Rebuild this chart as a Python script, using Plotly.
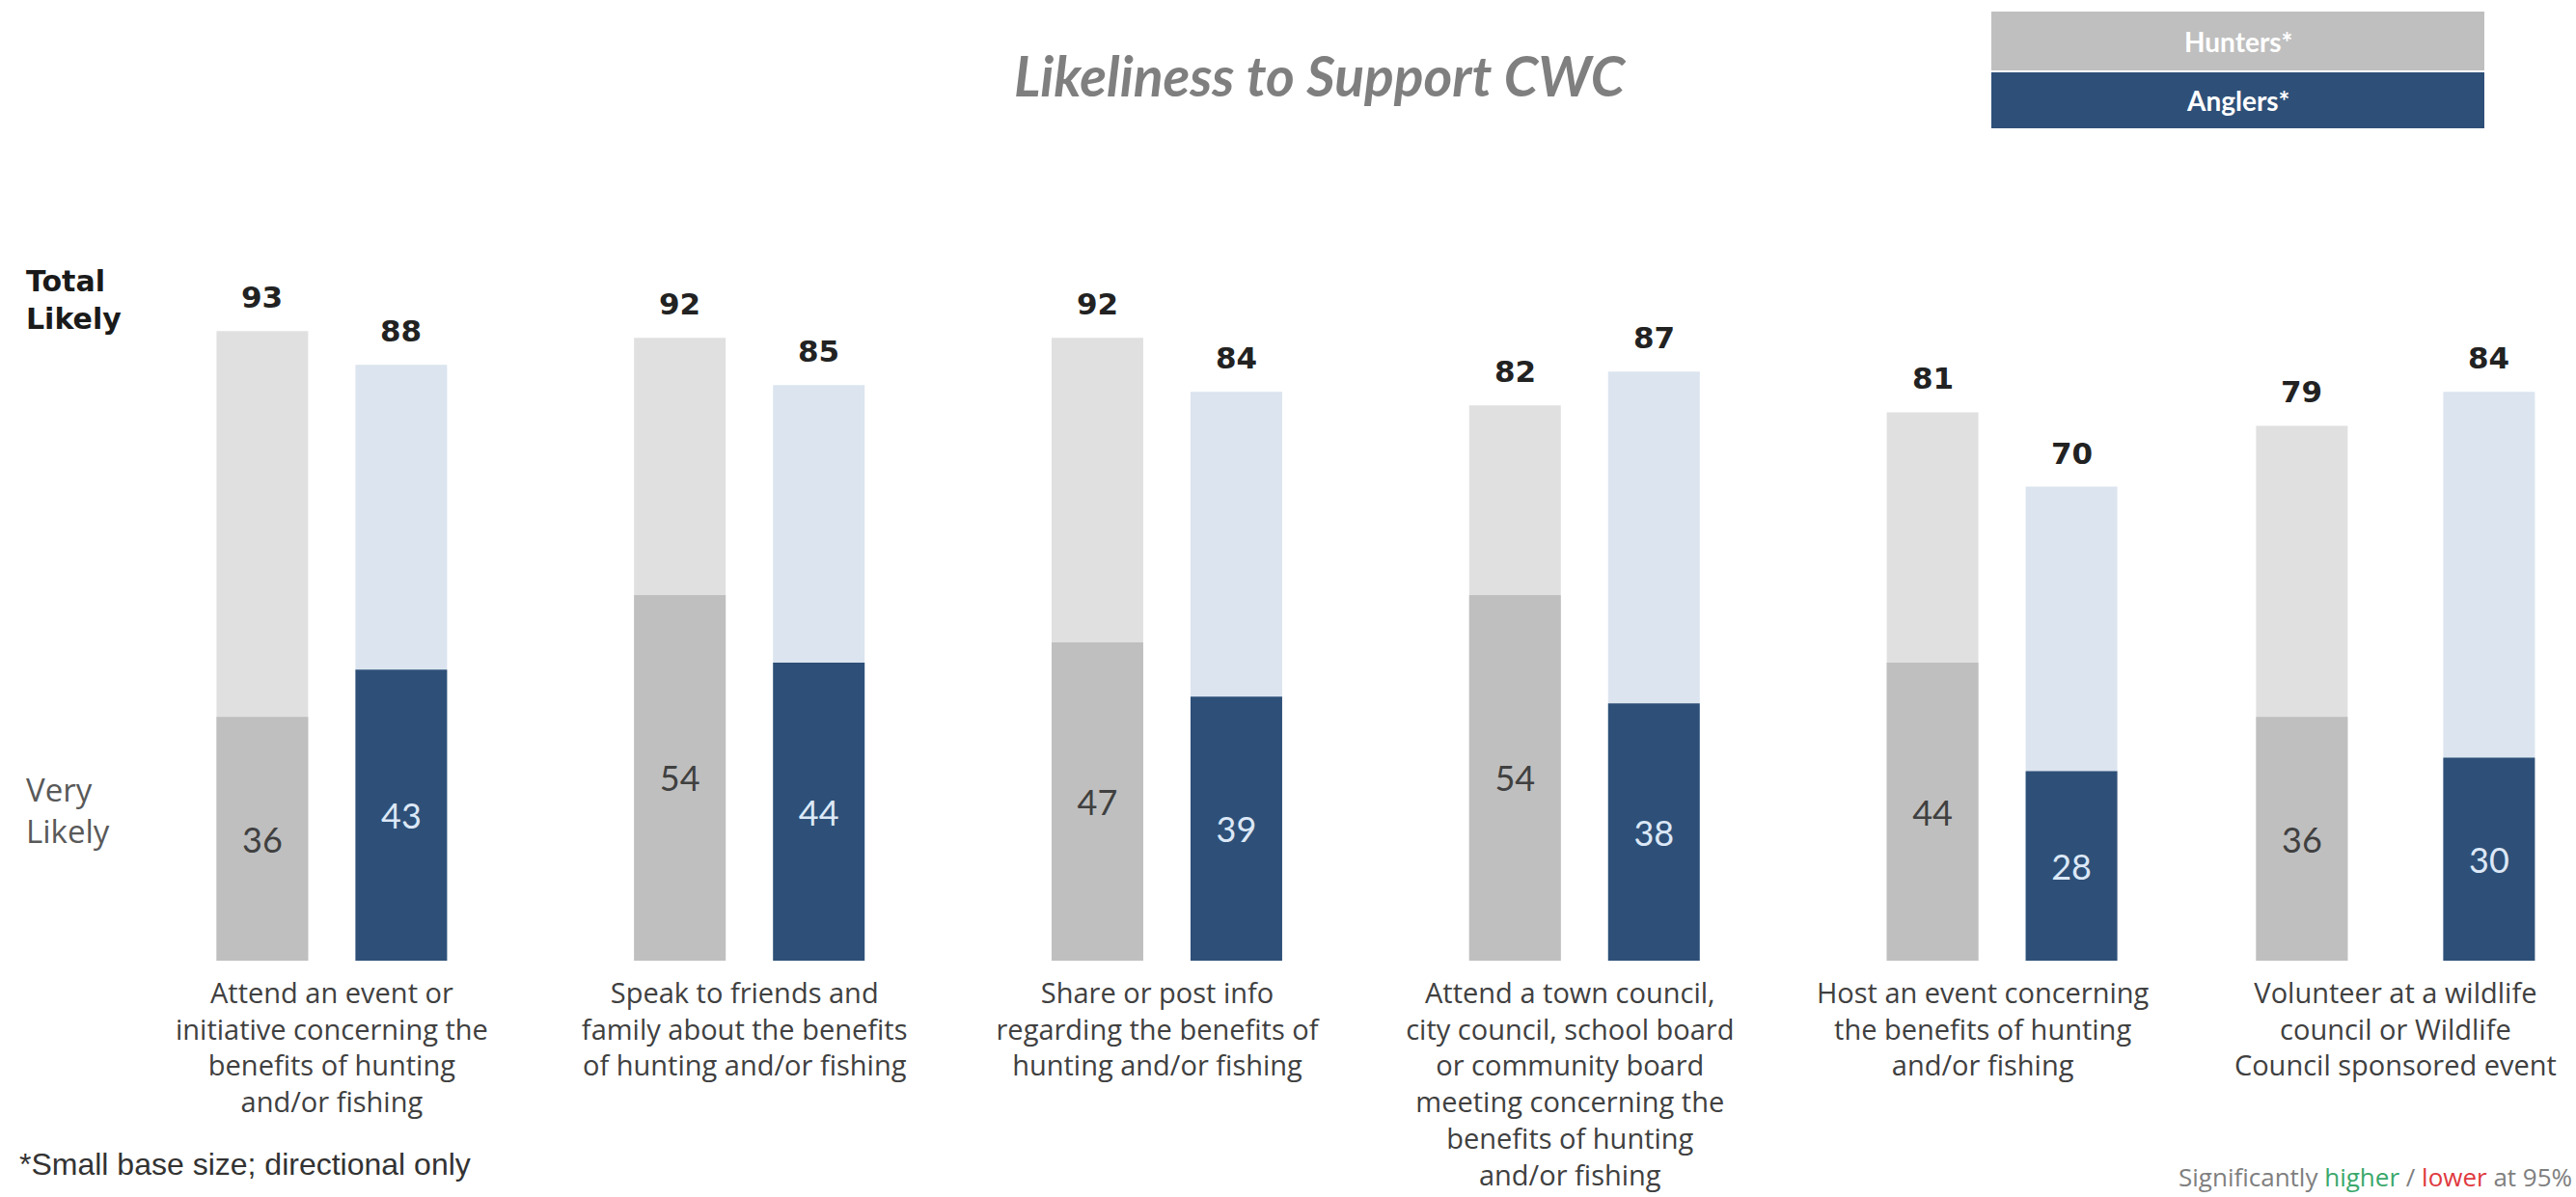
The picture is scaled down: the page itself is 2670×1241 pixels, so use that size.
import plotly.graph_objects as go

# ---------------- data ----------------
categories = [
    "Attend an event or<br>initiative concerning the<br>benefits of hunting<br>and/or fishing",
    "Speak to friends and<br>family about the benefits<br>of hunting and/or fishing",
    "Share or post info<br>regarding the benefits of<br>hunting and/or fishing",
    "Attend a town council,<br>city council, school board<br>or community board<br>meeting concerning the<br>benefits of hunting<br>and/or fishing",
    "Host an event concerning<br>the benefits of hunting<br>and/or fishing",
    "Volunteer at a wildlife<br>council or Wildlife<br>Council sponsored event",
]
hunters_total = [93, 92, 92, 82, 81, 79]
hunters_very = [36, 54, 47, 54, 44, 36]
anglers_total = [88, 85, 84, 87, 70, 84]
anglers_very = [43, 44, 39, 38, 28, 30]

# ---------------- layout constants (style) ----------------
W, H = 2670, 1241
ML, MR, MT, MB = 130, 3, 294, 245
PW = W - ML - MR
PH = H - MT - MB
U = 427.8                      # pixels per category step
X_MIN = -0.5
X_MAX = X_MIN + PW / U


def paper_x(px):
    return (px - ML) / PW


def paper_y(py):
    return (H - MB - py) / PH


BAR_W = 0.222
# per-group bar offsets (in category units) reproducing the slide's spacing
H_OFF = [-0.2793, -0.2677, -0.2560, -0.2443, -0.2326, -0.3378]
A_OFF = [0.0573, 0.0690, 0.0806, 0.0923, 0.1040, 0.1157]

C_H_TOT = "#e0e0e0"
C_H_VERY = "#bfbfbf"
C_A_TOT = "#dbe4ef"
C_A_VERY = "#2e5078"
FONT = "Lato"
LABEL_FONT = "Open Sans"
BOLD_FONT = "DejaVu Sans"

fig = go.Figure()

fig.add_trace(go.Bar(x=categories, y=hunters_total, offset=H_OFF, width=BAR_W,
                     marker=dict(color=C_H_TOT, line=dict(width=0)),
                     name="Hunters* total", hoverinfo="skip"))
fig.add_trace(go.Bar(x=categories, y=hunters_very, offset=H_OFF, width=BAR_W,
                     marker=dict(color=C_H_VERY, line=dict(width=0)),
                     text=[str(v) for v in hunters_very], textposition="inside",
                     insidetextanchor="middle", textangle=0,
                     textfont=dict(family=FONT, size=36, color="#404040"),
                     name="Hunters* very", hoverinfo="skip"))
fig.add_trace(go.Bar(x=categories, y=anglers_total, offset=A_OFF, width=BAR_W,
                     marker=dict(color=C_A_TOT, line=dict(width=0)),
                     name="Anglers* total", hoverinfo="skip"))
fig.add_trace(go.Bar(x=categories, y=anglers_very, offset=A_OFF, width=BAR_W,
                     marker=dict(color=C_A_VERY, line=dict(width=0)),
                     text=[str(v) for v in anglers_very], textposition="inside",
                     insidetextanchor="middle", textangle=0,
                     textfont=dict(family=FONT, size=36, color="#dce8f7"),
                     name="Anglers* very", hoverinfo="skip"))

annotations = []
# totals above bars
for totals, offs in ((hunters_total, H_OFF), (anglers_total, A_OFF)):
    for i, v in enumerate(totals):
        annotations.append(dict(
            x=i + offs[i] + BAR_W / 2, y=v, xref="x", yref="y",
            text=f"<b>{v}</b>", showarrow=False, yanchor="bottom", yshift=15,
            font=dict(family=BOLD_FONT, size=31, color="#222222")))

# title
annotations.append(dict(x=paper_x(1368), y=paper_y(78), xref="paper", yref="paper",
                        text="<b><i>Likeliness to Support CWC</i></b>", showarrow=False,
                        xanchor="center", yanchor="middle",
                        font=dict(family=FONT, size=57, color="#7f7f7f")))
# row labels
annotations.append(dict(x=paper_x(25), y=paper_y(311), xref="paper", yref="paper",
                        text="<b>Total<br>Likely</b>", showarrow=False, align="left",
                        xanchor="left", yanchor="middle",
                        font=dict(family=BOLD_FONT, size=30, color="#1a1a1a")))
annotations.append(dict(x=paper_x(25), y=paper_y(840), xref="paper", yref="paper",
                        text="Very<br>Likely", showarrow=False, align="left",
                        xanchor="left", yanchor="middle",
                        font=dict(family=LABEL_FONT, size=33, color="#595959")))
# footnotes
annotations.append(dict(x=paper_x(18), y=paper_y(1207), xref="paper", yref="paper",
                        text="*Small base size; directional only", showarrow=False,
                        xanchor="left", yanchor="middle",
                        font=dict(family="Liberation Sans", size=32, color="#333333")))
annotations.append(dict(x=paper_x(2668), y=paper_y(1220), xref="paper", yref="paper",
                        text="Significantly <span style='color:#3aa86b'>higher</span> / "
                             "<span style='color:#e0393e'>lower</span> at 95%",
                        showarrow=False, xanchor="right", yanchor="middle",
                        font=dict(family=LABEL_FONT, size=26, color="#7f7f7f")))

# legend boxes
LEG_X0, LEG_X1 = 2064, 2575
shapes = [
    dict(type="rect", xref="paper", yref="paper", x0=paper_x(LEG_X0), x1=paper_x(LEG_X1),
         y0=paper_y(73), y1=paper_y(12), fillcolor="#bfbfbf", line=dict(width=0), layer="above"),
    dict(type="rect", xref="paper", yref="paper", x0=paper_x(LEG_X0), x1=paper_x(LEG_X1),
         y0=paper_y(133), y1=paper_y(75), fillcolor=C_A_VERY, line=dict(width=0), layer="above"),
]
annotations.append(dict(x=paper_x((LEG_X0 + LEG_X1) / 2), y=paper_y(43), xref="paper", yref="paper",
                        text="<b>Hunters*</b>", showarrow=False, xanchor="center", yanchor="middle",
                        font=dict(family=FONT, size=28, color="#ffffff")))
annotations.append(dict(x=paper_x((LEG_X0 + LEG_X1) / 2), y=paper_y(104), xref="paper", yref="paper",
                        text="<b>Anglers*</b>", showarrow=False, xanchor="center", yanchor="middle",
                        font=dict(family=FONT, size=28, color="#ffffff")))

fig.update_layout(
    width=W, height=H,
    margin=dict(l=ML, r=MR, t=MT, b=MB, autoexpand=False),
    barmode="overlay",
    showlegend=False,
    paper_bgcolor="#ffffff", plot_bgcolor="#ffffff",
    annotations=annotations, shapes=shapes,
    xaxis=dict(type="category", range=[X_MIN, X_MAX], showgrid=False, zeroline=False,
               showline=False, ticks="", ticklabelstandoff=14,
               tickfont=dict(family=LABEL_FONT, size=29, color="#404040"), fixedrange=True),
    yaxis=dict(range=[0, 100], visible=False, fixedrange=True),
    hovermode=False,
)

fig.write_html("out.html")
